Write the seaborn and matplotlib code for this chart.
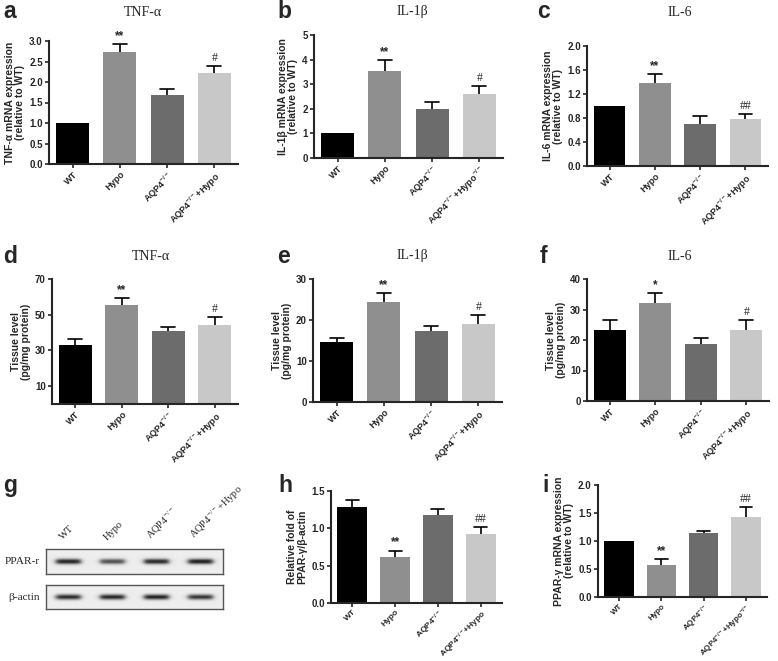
import numpy as np
import pandas as pd
import matplotlib
matplotlib.use('Agg')
import matplotlib.pyplot as plt
import seaborn as sns

# datos
grupos = ['WT', 'Hypo', r'AQP4$^{-/-}$', r'AQP4$^{-/-}$+Hypo']
grupos_b = ['WT', 'Hypo', r'AQP4$^{-/-}$', r'AQP4$^{-/-}$+Hypo$^{-/-}$']
colores = ['#000000', '#8f8f8f', '#6c6c6c', '#c8c8c8']

tnf_mrna = [1.0, 2.72, 1.68, 2.21]
tnf_mrna_err = [0.0, 0.20, 0.14, 0.17]
il1b_mrna = [1.0, 3.53, 1.99, 2.61]
il1b_mrna_err = [0.0, 0.46, 0.29, 0.30]
il6_mrna = [1.0, 1.39, 0.70, 0.78]
il6_mrna_err = [0.0, 0.14, 0.13, 0.08]

tnf_tejido = [32.8, 55.5, 40.7, 44.1]
tnf_tejido_err = [3.6, 3.8, 2.6, 4.5]
il1b_tejido = [14.7, 24.4, 17.3, 19.0]
il1b_tejido_err = [0.9, 2.2, 1.3, 2.3]
il6_tejido = [23.2, 32.1, 18.6, 23.3]
il6_tejido_err = [3.4, 3.3, 2.0, 3.2]

ppar_ratio = [1.28, 0.62, 1.18, 0.92]
ppar_ratio_err = [0.10, 0.08, 0.08, 0.10]
ppar_mrna = [1.0, 0.58, 1.14, 1.43]
ppar_mrna_err = [0.0, 0.10, 0.04, 0.17]

sig_a = ['', '**', '', '#']
sig_b = ['', '**', '', '#']
sig_c = ['', '**', '', '##']
sig_d = ['', '**', '', '#']
sig_e = ['', '**', '', '#']
sig_f = ['', '*', '', '#']
sig_h = ['', '**', '', '##']
sig_i = ['', '**', '', '##']

# intensidad de bandas del western blot (0-1)
carriles = ['WT', 'Hypo', r'AQP4$^{-/-}$', r'AQP4$^{-/-}$+Hypo']
banda_ppar = [0.80, 0.62, 0.78, 0.82]
banda_actina = [0.78, 0.80, 0.82, 0.74]

sns.set_style('ticks')
plt.rcParams['font.family'] = ['Liberation Sans', 'DejaVu Sans']
plt.rcParams['mathtext.default'] = 'regular'
SERIF = ['Liberation Serif', 'DejaVu Serif']

W, H = 778, 661
fig = plt.figure(figsize=(W / 100, H / 100), dpi=100)


def rect(x0, y0, x1, y1):
    return [x0 / W, 1 - y1 / H, (x1 - x0) / W, (y1 - y0) / H]


def panel_barras(caja, valores, errores, marcas, etiquetas, ylim, ticks, fmt, ylabel,
                 xfs=6.6):
    ax = fig.add_axes(rect(*caja))
    df = pd.DataFrame({'grupo': etiquetas, 'valor': valores})
    sns.barplot(data=df, x='grupo', y='valor', hue='grupo', palette=colores,
                width=0.7, legend=False, ax=ax, saturation=1, linewidth=0)
    x = np.arange(len(valores))
    arriba = np.array(valores) + np.array(errores)
    for xi, v, e in zip(x, valores, errores):
        if e > 0:
            ax.plot([xi, xi], [v, v + e], color='black', lw=1.2, solid_capstyle='butt')
            ax.plot([xi - 0.15, xi + 0.15], [v + e, v + e], color='black', lw=1.2)
    for xi, t, m in zip(x, arriba, marcas):
        if m:
            fam = SERIF if '#' in m else ['Liberation Sans']
            ax.annotate(m, (xi, t), xytext=(0, 1.5), textcoords='offset points',
                        ha='center', va='bottom', fontsize=8.5,
                        fontweight='normal' if '#' in m else 'bold', family=fam)
    ax.set_xlim(-0.5, len(valores) - 0.5)
    ax.set_ylim(*ylim)
    ax.set_yticks(ticks)
    ax.set_yticklabels([fmt.format(t) for t in ticks], fontsize=7, fontweight='bold')
    ax.set_xticks(x)
    ax.set_xticklabels(etiquetas, rotation=45, ha='right', rotation_mode='anchor',
                       fontsize=xfs, fontweight='bold')
    ax.set_xlabel('')
    ax.set_ylabel(ylabel, fontsize=7.5, fontweight='bold', labelpad=3, linespacing=1.0)
    sns.despine(ax=ax)
    for s in ['left', 'bottom']:
        ax.spines[s].set_linewidth(1.5)
    ax.tick_params(width=1.2, length=3, pad=1.5)
    ax.tick_params(axis='x', pad=1.0)
    return ax


panel_barras((49, 41, 238, 164), tnf_mrna, tnf_mrna_err, sig_a, grupos, (0, 3.0),
             np.arange(0, 3.01, 0.5), '{:.1f}', 'TNF-α mRNA expression\n(relative to WT)')
panel_barras((314, 35, 503, 158), il1b_mrna, il1b_mrna_err, sig_b, grupos_b, (0, 5),
             np.arange(0, 5.1, 1), '{:.0f}', 'IL-1β mRNA expression\n(relative to WT)')
panel_barras((587, 46, 768, 166), il6_mrna, il6_mrna_err, sig_c, grupos, (0, 2.0),
             np.arange(0, 2.01, 0.4), '{:.1f}', 'IL-6 mRNA expression\n(relative to WT)')
panel_barras((52, 279, 238, 404), tnf_tejido, tnf_tejido_err, sig_d, grupos, (0, 70),
             [10, 30, 50, 70], '{:.0f}', 'Tissue level\n(pg/mg protein)')
panel_barras((313, 279, 502, 402), il1b_tejido, il1b_tejido_err, sig_e, grupos, (0, 30),
             [0, 10, 20, 30], '{:.0f}', 'Tissue level\n(pg/mg protein)')
panel_barras((587, 279, 769, 401), il6_tejido, il6_tejido_err, sig_f, grupos, (0, 40),
             [0, 10, 20, 30, 40], '{:.0f}', 'Tissue level\n(pg/mg protein)')
panel_barras((331, 491, 502, 603), ppar_ratio, ppar_ratio_err, sig_h, grupos, (0, 1.5),
             [0, 0.5, 1.0, 1.5], '{:.1f}', 'Relative fold of\nPPAR-γ/β-actin', xfs=6.0)
panel_barras((598, 485, 767, 597), ppar_mrna, ppar_mrna_err, sig_i, grupos_b, (0, 2.0),
             [0, 0.5, 1.0, 1.5, 2.0], '{:.1f}', 'PPAR-γ mRNA expression\n(relative to WT)',
             xfs=5.8)


# western blot
def tira_blot(intens, alto=30, ancho=200):
    yy = np.arange(alto)[:, None]
    xx = np.linspace(0, len(intens), ancho)[None, :]
    img = np.full((alto, ancho), 0.93)
    for k, v in enumerate(intens):
        px = 1 / (1 + np.exp((np.abs(xx - (k + 0.5)) - 0.28) / 0.035))
        py = np.exp(-((yy - alto / 2 + 0.5) / 3.2) ** 2)
        img -= v * px * py
    return img


for caja, intens, nombre in [((46, 549, 223, 574), banda_ppar, 'PPAR-r'),
                             ((46, 585, 223, 609), banda_actina, 'β-actin')]:
    axb = fig.add_axes(rect(*caja))
    axb.imshow(tira_blot(intens), cmap='gray', vmin=0, vmax=1, aspect='auto',
               extent=(0, len(intens), 0, 1), interpolation='bilinear')
    axb.set_xticks([])
    axb.set_yticks([])
    for s in axb.spines.values():
        s.set_color('#555555')
        s.set_linewidth(1.0)
    axb.text(-0.035, 0.5, nombre, transform=axb.transAxes, ha='right', va='center',
             fontsize=8.2, family=SERIF)
    if nombre == 'PPAR-r':
        for k, lab in enumerate(carriles):
            axb.text(k + 0.42, 1.3, lab, ha='left', va='bottom', rotation=45,
                     rotation_mode='anchor', fontsize=7.5, family=SERIF)

# letras de panel
for letra, (x, y) in {'a': (3, 18), 'b': (277, 18), 'c': (537, 18),
                      'd': (3, 263), 'e': (277, 263), 'f': (540, 263),
                      'g': (3, 492), 'h': (278, 492), 'i': (542, 492)}.items():
    fig.text(x / W, 1 - y / H, letra, fontsize=16.5, fontweight='bold',
             ha='left', va='baseline')

# titulos
for txt, (x, y) in [('TNF-α', (143, 12)), ('IL-1β', (412, 12)), ('IL-6', (680, 12)),
                    ('TNF-α', (151, 257)), ('IL-1β', (412, 255)), ('IL-6', (680, 257))]:
    fig.text(x / W, 1 - y / H, txt, fontsize=10, family=SERIF, ha='center', va='center')

fig.savefig('out.png', dpi=100)
